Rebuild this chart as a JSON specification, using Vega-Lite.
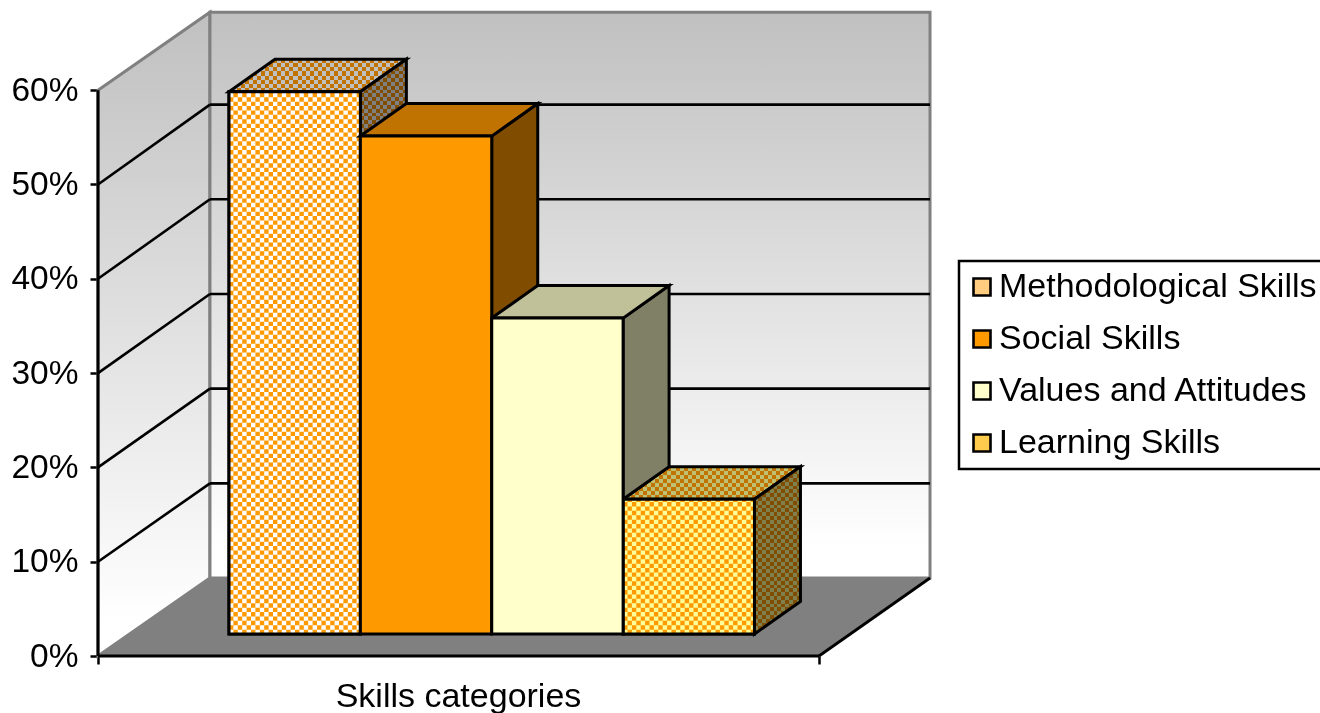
{"$schema":"https://vega.github.io/schema/vega-lite/v6.json","width":1222,"height":656,"autosize":"none","padding":{"left":98,"top":0,"right":0,"bottom":57},"background":"white","config":{"view":{"stroke":null},"font":"Liberation Sans","legend":{"strokeWidth":2.5}},
"datasets":{"skills":[{"skill":"Methodological Skills","value":57.5,"order":0},{"skill":"Social Skills","value":52.8,"order":1},{"skill":"Values and Attitudes","value":33.5,"order":2},{"skill":"Learning Skills","value":14.3,"order":3}],
"depth":[{"d":0},{"d":1}],"grid":[{"v":10},{"v":20},{"v":30},{"v":40},{"v":50}],"frame":[{"v":0}]},
"layer":[
{"data":{"name":"depth"},"transform":[{"calculate":"datum.d*0.1553","as":"xw"},{"calculate":"datum.d*8.27","as":"low"},{"calculate":"60+datum.d*8.27","as":"high"}],
"mark":{"type":"area","orient":"vertical","fill":{"gradient":"linear","x1":0,"y1":0,"x2":0,"y2":1,"stops":[{"offset":0,"color":"#c0c0c0"},{"offset":0.95,"color":"#ffffff"},{"offset":1,"color":"#ffffff"}]},"stroke":"#808080","strokeWidth":3},
"encoding":{"x":{"field":"xw","type":"quantitative","title":"Skills categories","scale":{"domain":[0,1.6949],"nice":false,"zero":false},"axis":{"values":[0,1],"labels":false,"domain":false,"grid":false,"ticks":true,"tickSize":8,"tickWidth":2.5,"tickColor":"#000","title":"Skills categories","titleFontSize":34,"titleFontWeight":"normal","titleFont":"Liberation Sans","titleColor":"#000","titleX":360,"titleY":50,"titleBaseline":"alphabetic","titleAlign":"center","titleAnchor":"middle"}},
"y":{"field":"high","type":"quantitative","title":null,"scale":{"domain":[0,69.565],"nice":false,"zero":false},"axis":{"values":[0,10,20,30,40,50,60],"labelExpr":"datum.value+'%'","domain":false,"grid":false,"tickSize":8,"tickWidth":2.5,"tickColor":"#000","labelFontSize":33.5,"labelFont":"Liberation Sans","labelColor":"#000","labelPadding":12,"title":null}},"y2":{"field":"low"}}},
{"data":{"name":"depth"},"transform":[{"filter":"datum.d==1"},{"calculate":"0.1553","as":"a"},{"calculate":"1.154","as":"b"},{"calculate":"8.27","as":"c"},{"calculate":"68.27","as":"e"}],
"mark":{"type":"rect","fill":{"gradient":"linear","x1":0,"y1":0,"x2":0,"y2":1,"stops":[{"offset":0,"color":"#c0c0c0"},{"offset":0.95,"color":"#ffffff"},{"offset":1,"color":"#ffffff"}]},"stroke":"#808080","strokeWidth":3},
"encoding":{"x":{"field":"a","type":"quantitative"},"x2":{"field":"b"},"y":{"field":"e","type":"quantitative"},"y2":{"field":"c"}}},
{"data":{"name":"depth"},"transform":[{"calculate":"datum.d*0.1553","as":"a"},{"calculate":"1+datum.d*0.1553","as":"b"},{"calculate":"datum.d*8.27","as":"c"}],
"mark":{"type":"area","orient":"horizontal","fill":"#808080"},
"encoding":{"x":{"field":"a","type":"quantitative"},"x2":{"field":"b"},"y":{"field":"c","type":"quantitative"}}},
{"data":{"name":"grid"},"transform":[{"calculate":"0.1553","as":"a"},{"calculate":"1.154","as":"b"},{"calculate":"datum.v*1.004+8.27","as":"c"}],
"mark":{"type":"rule","color":"#000","strokeWidth":2.6},"encoding":{"x":{"field":"a","type":"quantitative"},"x2":{"field":"b"},"y":{"field":"c","type":"quantitative"}}},
{"data":{"name":"grid"},"transform":[{"calculate":"0","as":"a"},{"calculate":"0.1553","as":"b"},{"calculate":"datum.v*1.004+8.27","as":"c"}],
"mark":{"type":"rule","color":"#000","strokeWidth":2.6},"encoding":{"x":{"field":"a","type":"quantitative"},"x2":{"field":"b"},"y":{"field":"v","type":"quantitative"},"y2":{"field":"c"}}},
{"data":{"name":"frame"},"transform":[{"calculate":"0","as":"a"},{"calculate":"1","as":"b"}],
"mark":{"type":"rule","color":"#000","strokeWidth":3},"encoding":{"x":{"field":"a","type":"quantitative"},"x2":{"field":"b"},"y":{"field":"v","type":"quantitative"}}},
{"data":{"name":"frame"},"transform":[{"calculate":"0","as":"a"},{"calculate":"60","as":"b"}],
"mark":{"type":"rule","color":"#000","strokeWidth":3},"encoding":{"x":{"field":"a","type":"quantitative"},"y":{"field":"v","type":"quantitative"},"y2":{"field":"b"}}},
{"data":{"name":"frame"},"transform":[{"calculate":"1","as":"a"},{"calculate":"1.154","as":"b"},{"calculate":"8.27","as":"c"}],
"mark":{"type":"rule","color":"#000","strokeWidth":2.8},"encoding":{"x":{"field":"a","type":"quantitative"},"x2":{"field":"b"},"y":{"field":"v","type":"quantitative"},"y2":{"field":"c"}}},
{"data":{"name":"skills"},"transform":[{"calculate":"[0,1]","as":"t"},{"flatten":["t"]},
{"calculate":"0.1817+0.1822*datum.order","as":"x0"},{"calculate":"datum.x0+0.1822","as":"x1"},{"calculate":"datum.value+2.33","as":"yt"},{"calculate":"2.33","as":"yb"},
{"calculate":"datum.x0+datum.t*0.0638","as":"tx0"},{"calculate":"datum.x1+datum.t*0.0638","as":"tx1"},{"calculate":"datum.yt+datum.t*3.45","as":"ty"},{"calculate":"datum.x1+datum.t*0.0638","as":"sx"},
{"calculate":"datum.yt-14.3+datum.t*3.45","as":"sb"},{"calculate":"16.63+datum.t*3.45","as":"sb2"},{"calculate":"datum.value*9.43","as":"hpx"},{"calculate":"datum.yb+datum.value/2","as":"ym"},{"calculate":"(datum.x0+datum.x1)/2","as":"xm"},
{"calculate":"datum.order==0||datum.order==3","as":"pat"}],
"layer":[
{"transform":[{"filter":"datum.pat"}],"encoding":{"x":{"field":"tx0","type":"quantitative"},"x2":{"field":"tx1"},"y":{"field":"ty","type":"quantitative"},"detail":{"field":"skill"}},
"layer":[
{"mark":{"type":"area","orient":"horizontal","fill":"#fff"}},
{"mark":{"type":"area","orient":"horizontal","blend":"difference","fill":{"gradient":"linear","x1":0,"y1":0,"x2":1,"y2":0,"stops":[{"offset":0,"color":"#000"},{"offset":0.0227,"color":"#000"},{"offset":0.0227,"color":"#fff"},{"offset":0.0455,"color":"#fff"},{"offset":0.0455,"color":"#000"},{"offset":0.0682,"color":"#000"},{"offset":0.0682,"color":"#fff"},{"offset":0.0909,"color":"#fff"},{"offset":0.0909,"color":"#000"},{"offset":0.1136,"color":"#000"},{"offset":0.1136,"color":"#fff"},{"offset":0.1364,"color":"#fff"},{"offset":0.1364,"color":"#000"},{"offset":0.1591,"color":"#000"},{"offset":0.1591,"color":"#fff"},{"offset":0.1818,"color":"#fff"},{"offset":0.1818,"color":"#000"},{"offset":0.2045,"color":"#000"},{"offset":0.2045,"color":"#fff"},{"offset":0.2273,"color":"#fff"},{"offset":0.2273,"color":"#000"},{"offset":0.25,"color":"#000"},{"offset":0.25,"color":"#fff"},{"offset":0.2727,"color":"#fff"},{"offset":0.2727,"color":"#000"},{"offset":0.2955,"color":"#000"},{"offset":0.2955,"color":"#fff"},{"offset":0.3182,"color":"#fff"},{"offset":0.3182,"color":"#000"},{"offset":0.3409,"color":"#000"},{"offset":0.3409,"color":"#fff"},{"offset":0.3636,"color":"#fff"},{"offset":0.3636,"color":"#000"},{"offset":0.3864,"color":"#000"},{"offset":0.3864,"color":"#fff"},{"offset":0.4091,"color":"#fff"},{"offset":0.4091,"color":"#000"},{"offset":0.4318,"color":"#000"},{"offset":0.4318,"color":"#fff"},{"offset":0.4545,"color":"#fff"},{"offset":0.4545,"color":"#000"},{"offset":0.4773,"color":"#000"},{"offset":0.4773,"color":"#fff"},{"offset":0.5,"color":"#fff"},{"offset":0.5,"color":"#000"},{"offset":0.5227,"color":"#000"},{"offset":0.5227,"color":"#fff"},{"offset":0.5455,"color":"#fff"},{"offset":0.5455,"color":"#000"},{"offset":0.5682,"color":"#000"},{"offset":0.5682,"color":"#fff"},{"offset":0.5909,"color":"#fff"},{"offset":0.5909,"color":"#000"},{"offset":0.6136,"color":"#000"},{"offset":0.6136,"color":"#fff"},{"offset":0.6364,"color":"#fff"},{"offset":0.6364,"color":"#000"},{"offset":0.6591,"color":"#000"},{"offset":0.6591,"color":"#fff"},{"offset":0.6818,"color":"#fff"},{"offset":0.6818,"color":"#000"},{"offset":0.7045,"color":"#000"},{"offset":0.7045,"color":"#fff"},{"offset":0.7273,"color":"#fff"},{"offset":0.7273,"color":"#000"},{"offset":0.75,"color":"#000"},{"offset":0.75,"color":"#fff"},{"offset":0.7727,"color":"#fff"},{"offset":0.7727,"color":"#000"},{"offset":0.7955,"color":"#000"},{"offset":0.7955,"color":"#fff"},{"offset":0.8182,"color":"#fff"},{"offset":0.8182,"color":"#000"},{"offset":0.8409,"color":"#000"},{"offset":0.8409,"color":"#fff"},{"offset":0.8636,"color":"#fff"},{"offset":0.8636,"color":"#000"},{"offset":0.8864,"color":"#000"},{"offset":0.8864,"color":"#fff"},{"offset":0.9091,"color":"#fff"},{"offset":0.9091,"color":"#000"},{"offset":0.9318,"color":"#000"},{"offset":0.9318,"color":"#fff"},{"offset":0.9545,"color":"#fff"},{"offset":0.9545,"color":"#000"},{"offset":0.9773,"color":"#000"},{"offset":0.9773,"color":"#fff"},{"offset":1,"color":"#fff"}]}}},
{"mark":{"type":"area","orient":"horizontal","blend":"difference","fill":{"gradient":"linear","x1":0,"y1":0,"x2":0,"y2":1,"stops":[{"offset":0,"color":"#000"},{"offset":0.125,"color":"#000"},{"offset":0.125,"color":"#fff"},{"offset":0.25,"color":"#fff"},{"offset":0.25,"color":"#000"},{"offset":0.375,"color":"#000"},{"offset":0.375,"color":"#fff"},{"offset":0.5,"color":"#fff"},{"offset":0.5,"color":"#000"},{"offset":0.625,"color":"#000"},{"offset":0.625,"color":"#fff"},{"offset":0.75,"color":"#fff"},{"offset":0.75,"color":"#000"},{"offset":0.875,"color":"#000"},{"offset":0.875,"color":"#fff"},{"offset":1,"color":"#fff"}]}}},
{"mark":{"type":"area","orient":"horizontal","blend":"screen","fill":"#ff9900"}},
{"transform":[{"filter":"datum.order==3"}],"mark":{"type":"area","orient":"horizontal","blend":"multiply","fill":"#ffff99"}},
{"mark":{"type":"area","orient":"horizontal","blend":"multiply","fill":"#c0c0c0"}},
{"mark":{"type":"area","orient":"horizontal","fillOpacity":0,"stroke":"#000","strokeWidth":3}}
]},
{"transform":[{"filter":"datum.pat"}],"encoding":{"x":{"field":"sx","type":"quantitative"},"y":{"field":"ty","type":"quantitative"},"y2":{"field":"sb"},"detail":{"field":"skill"}},
"layer":[
{"mark":{"type":"area","orient":"vertical","fill":"#fff"}},
{"mark":{"type":"area","orient":"vertical","blend":"difference","fill":{"gradient":"linear","x1":0,"y1":0,"x2":1,"y2":0,"stops":[{"offset":0,"color":"#000"},{"offset":0.0833,"color":"#000"},{"offset":0.0833,"color":"#fff"},{"offset":0.1667,"color":"#fff"},{"offset":0.1667,"color":"#000"},{"offset":0.25,"color":"#000"},{"offset":0.25,"color":"#fff"},{"offset":0.3333,"color":"#fff"},{"offset":0.3333,"color":"#000"},{"offset":0.4167,"color":"#000"},{"offset":0.4167,"color":"#fff"},{"offset":0.5,"color":"#fff"},{"offset":0.5,"color":"#000"},{"offset":0.5833,"color":"#000"},{"offset":0.5833,"color":"#fff"},{"offset":0.6667,"color":"#fff"},{"offset":0.6667,"color":"#000"},{"offset":0.75,"color":"#000"},{"offset":0.75,"color":"#fff"},{"offset":0.8333,"color":"#fff"},{"offset":0.8333,"color":"#000"},{"offset":0.9167,"color":"#000"},{"offset":0.9167,"color":"#fff"},{"offset":1,"color":"#fff"}]}}},
{"mark":{"type":"area","orient":"vertical","blend":"difference","fill":{"gradient":"linear","x1":0,"y1":0,"x2":0,"y2":1,"stops":[{"offset":0,"color":"#000"},{"offset":0.0227,"color":"#000"},{"offset":0.0227,"color":"#fff"},{"offset":0.0455,"color":"#fff"},{"offset":0.0455,"color":"#000"},{"offset":0.0682,"color":"#000"},{"offset":0.0682,"color":"#fff"},{"offset":0.0909,"color":"#fff"},{"offset":0.0909,"color":"#000"},{"offset":0.1136,"color":"#000"},{"offset":0.1136,"color":"#fff"},{"offset":0.1364,"color":"#fff"},{"offset":0.1364,"color":"#000"},{"offset":0.1591,"color":"#000"},{"offset":0.1591,"color":"#fff"},{"offset":0.1818,"color":"#fff"},{"offset":0.1818,"color":"#000"},{"offset":0.2045,"color":"#000"},{"offset":0.2045,"color":"#fff"},{"offset":0.2273,"color":"#fff"},{"offset":0.2273,"color":"#000"},{"offset":0.25,"color":"#000"},{"offset":0.25,"color":"#fff"},{"offset":0.2727,"color":"#fff"},{"offset":0.2727,"color":"#000"},{"offset":0.2955,"color":"#000"},{"offset":0.2955,"color":"#fff"},{"offset":0.3182,"color":"#fff"},{"offset":0.3182,"color":"#000"},{"offset":0.3409,"color":"#000"},{"offset":0.3409,"color":"#fff"},{"offset":0.3636,"color":"#fff"},{"offset":0.3636,"color":"#000"},{"offset":0.3864,"color":"#000"},{"offset":0.3864,"color":"#fff"},{"offset":0.4091,"color":"#fff"},{"offset":0.4091,"color":"#000"},{"offset":0.4318,"color":"#000"},{"offset":0.4318,"color":"#fff"},{"offset":0.4545,"color":"#fff"},{"offset":0.4545,"color":"#000"},{"offset":0.4773,"color":"#000"},{"offset":0.4773,"color":"#fff"},{"offset":0.5,"color":"#fff"},{"offset":0.5,"color":"#000"},{"offset":0.5227,"color":"#000"},{"offset":0.5227,"color":"#fff"},{"offset":0.5455,"color":"#fff"},{"offset":0.5455,"color":"#000"},{"offset":0.5682,"color":"#000"},{"offset":0.5682,"color":"#fff"},{"offset":0.5909,"color":"#fff"},{"offset":0.5909,"color":"#000"},{"offset":0.6136,"color":"#000"},{"offset":0.6136,"color":"#fff"},{"offset":0.6364,"color":"#fff"},{"offset":0.6364,"color":"#000"},{"offset":0.6591,"color":"#000"},{"offset":0.6591,"color":"#fff"},{"offset":0.6818,"color":"#fff"},{"offset":0.6818,"color":"#000"},{"offset":0.7045,"color":"#000"},{"offset":0.7045,"color":"#fff"},{"offset":0.7273,"color":"#fff"},{"offset":0.7273,"color":"#000"},{"offset":0.75,"color":"#000"},{"offset":0.75,"color":"#fff"},{"offset":0.7727,"color":"#fff"},{"offset":0.7727,"color":"#000"},{"offset":0.7955,"color":"#000"},{"offset":0.7955,"color":"#fff"},{"offset":0.8182,"color":"#fff"},{"offset":0.8182,"color":"#000"},{"offset":0.8409,"color":"#000"},{"offset":0.8409,"color":"#fff"},{"offset":0.8636,"color":"#fff"},{"offset":0.8636,"color":"#000"},{"offset":0.8864,"color":"#000"},{"offset":0.8864,"color":"#fff"},{"offset":0.9091,"color":"#fff"},{"offset":0.9091,"color":"#000"},{"offset":0.9318,"color":"#000"},{"offset":0.9318,"color":"#fff"},{"offset":0.9545,"color":"#fff"},{"offset":0.9545,"color":"#000"},{"offset":0.9773,"color":"#000"},{"offset":0.9773,"color":"#fff"},{"offset":1,"color":"#fff"}]}}},
{"mark":{"type":"area","orient":"vertical","blend":"screen","fill":"#ff9900"}},
{"transform":[{"filter":"datum.order==3"}],"mark":{"type":"area","orient":"vertical","blend":"multiply","fill":"#ffff99"}},
{"mark":{"type":"area","orient":"vertical","blend":"multiply","fill":"#808080"}},
{"mark":{"type":"area","orient":"vertical","fillOpacity":0,"stroke":"#000","strokeWidth":3}}
]},
{"transform":[{"filter":"datum.pat&&datum.t==0"}],
"layer":[
{"mark":{"type":"rect","stroke":"#000","strokeWidth":3},"encoding":{"x":{"field":"x0","type":"quantitative"},"x2":{"field":"x1"},"y":{"field":"yt","type":"quantitative"},"y2":{"field":"yb"},
"fill":{"field":"skill","type":"nominal","scale":{"domain":["Methodological Skills","Social Skills","Values and Attitudes","Learning Skills"],"range":["#ffcc80","#ff9900","#ffffcc","#ffcc4d"]},
"legend":{"title":null,"orient":"none","legendX":861,"legendY":261,"padding":9,"strokeColor":"#000","fillColor":"#fff","symbolType":"square","symbolSize":289,"symbolOffset":-3,"symbolStrokeColor":"#000","symbolStrokeWidth":2.6,"labelFontSize":34,"labelFont":"Liberation Sans","labelColor":"#000","labelLimit":500,"labelOffset":0,"rowPadding":18}}}},
{"mark":{"type":"rect","fill":"#fff"},"encoding":{"x":{"field":"x0","type":"quantitative"},"x2":{"field":"x1"},"y":{"field":"yt","type":"quantitative"},"y2":{"field":"yb"}}},
{"mark":{"type":"rule","color":"#fff","strokeDash":[4.4,4.4],"blend":"difference"},"encoding":{"x":{"field":"x0","type":"quantitative"},"x2":{"field":"x1"},"y":{"field":"ym","type":"quantitative"},"size":{"field":"hpx","type":"quantitative","scale":null,"legend":null}}},
{"mark":{"type":"rule","color":"#fff","strokeDash":[4.4,4.4],"strokeWidth":131.3,"blend":"difference"},"encoding":{"x":{"field":"xm","type":"quantitative"},"y":{"field":"yb","type":"quantitative"},"y2":{"field":"yt"}}},
{"mark":{"type":"rect","fill":"#ff9900","blend":"screen"},"encoding":{"x":{"field":"x0","type":"quantitative"},"x2":{"field":"x1"},"y":{"field":"yt","type":"quantitative"},"y2":{"field":"yb"}}},
{"transform":[{"filter":"datum.order==3"}],"mark":{"type":"rect","fill":"#ffff99","blend":"multiply"},"encoding":{"x":{"field":"x0","type":"quantitative"},"x2":{"field":"x1"},"y":{"field":"yt","type":"quantitative"},"y2":{"field":"yb"}}},
{"mark":{"type":"rect","fillOpacity":0,"stroke":"#000","strokeWidth":3},"encoding":{"x":{"field":"x0","type":"quantitative"},"x2":{"field":"x1"},"y":{"field":"yt","type":"quantitative"},"y2":{"field":"yb"}}}
]},
{"transform":[{"filter":"!datum.pat"}],"encoding":{"x":{"field":"sx","type":"quantitative"},"y":{"field":"ty","type":"quantitative"},"y2":{"field":"sb2"},"detail":{"field":"skill"}},
"layer":[
{"mark":{"type":"area","orient":"vertical"},"encoding":{"fill":{"field":"skill","type":"nominal"}}},
{"mark":{"type":"area","orient":"vertical","blend":"multiply","fill":"#808080","stroke":"#000","strokeWidth":3}}
]},
{"transform":[{"filter":"!datum.pat"}],"encoding":{"x":{"field":"tx0","type":"quantitative"},"x2":{"field":"tx1"},"y":{"field":"ty","type":"quantitative"},"detail":{"field":"skill"}},
"layer":[
{"mark":{"type":"area","orient":"horizontal"},"encoding":{"fill":{"field":"skill","type":"nominal"}}},
{"mark":{"type":"area","orient":"horizontal","blend":"multiply","fill":"#c0c0c0"}},
{"mark":{"type":"area","orient":"horizontal","fillOpacity":0,"stroke":"#000","strokeWidth":3}}
]},
{"transform":[{"filter":"!datum.pat&&datum.t==0"}],"mark":{"type":"rect","stroke":"#000","strokeWidth":3},"encoding":{"x":{"field":"x0","type":"quantitative"},"x2":{"field":"x1"},"y":{"field":"yt","type":"quantitative"},"y2":{"field":"yb"},"fill":{"field":"skill","type":"nominal"}}}
]}
]}
